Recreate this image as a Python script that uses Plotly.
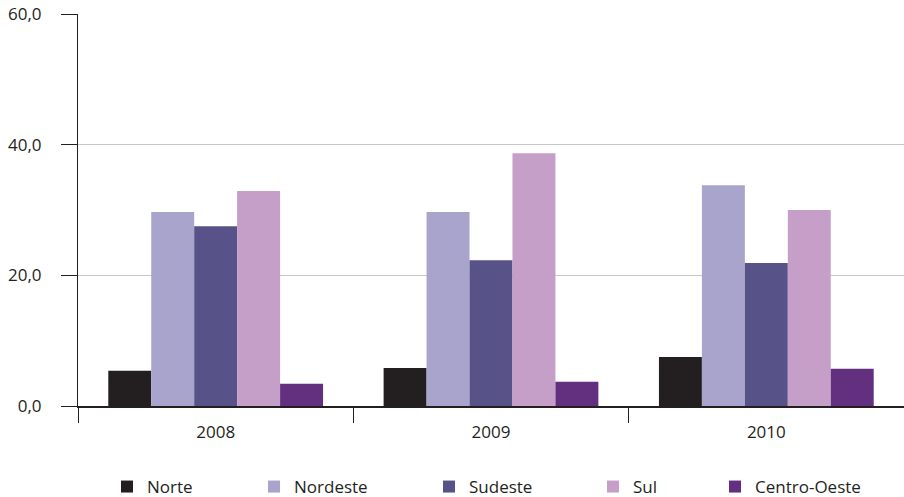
import plotly.graph_objects as go

# Anos (categorias do eixo x)
anos = ["2008", "2009", "2010"]

# Valores por região
norte = [5.4, 5.8, 7.5]
nordeste = [29.7, 29.7, 33.8]
sudeste = [27.5, 22.3, 21.9]
sul = [32.9, 38.7, 30.0]
centro_oeste = [3.4, 3.7, 5.7]

regioes = ["Norte", "Nordeste", "Sudeste", "Sul", "Centro-Oeste"]
series = [norte, nordeste, sudeste, sul, centro_oeste]
cores = ["#231F20", "#A9A4CB", "#575287", "#C69FC8", "#63307F"]

# Eixo y
y_ticks = [0, 20, 40, 60]
y_labels = ["0,0", "20,0", "40,0", "60,0"]

# Posição horizontal (px) do centro de cada item de legenda
legend_px = [127, 274, 449, 613, 735]

W, H = 904, 497
FONT = "Open Sans"
TXT = "#231F20"

fig = go.Figure()
for i, (nome, vals, cor) in enumerate(zip(regioes, series, cores)):
    leg = "legend" if i == 0 else f"legend{i + 1}"
    fig.add_trace(go.Bar(
        x=anos, y=vals, name=nome,
        marker=dict(color=cor, line=dict(width=0)),
        legend=leg, showlegend=True,
    ))

layout = dict(
    width=W, height=H,
    margin=dict(l=78, r=0, t=14, b=91),
    paper_bgcolor="white", plot_bgcolor="white",
    showlegend=True,
    barmode="group", bargap=0.22, bargroupgap=0,
    font=dict(family=FONT, size=17, color=TXT),
    xaxis=dict(
        type="category",
        showline=True, linecolor=TXT, linewidth=1.5,
        ticks="outside", tickson="boundaries", ticklen=15,
        tickcolor=TXT, tickwidth=1,
        ticklabelstandoff=10,
        showgrid=False,
        tickfont=dict(family=FONT, size=17, color=TXT),
    ),
    yaxis=dict(
        range=[0, 60],
        tickvals=y_ticks, ticktext=y_labels,
        showline=True, linecolor=TXT, linewidth=1,
        ticks="outside", ticklen=16, tickcolor=TXT, tickwidth=1,
        ticklabelstandoff=16,
        showgrid=True, gridcolor="#C8C8C8", gridwidth=1,
        zeroline=False,
        tickfont=dict(family=FONT, size=17, color=TXT),
    ),
)

for i, px in enumerate(legend_px):
    key = "legend" if i == 0 else f"legend{i + 1}"
    layout[key] = dict(
        xref="container", yref="container",
        x=(px - 20) / W, y=(H - 487) / H,
        xanchor="left", yanchor="middle",
        orientation="h", bgcolor="rgba(0,0,0,0)",
        font=dict(family=FONT, size=17, color=TXT),
    )

fig.update_layout(**layout)
fig.write_html("out.html")
